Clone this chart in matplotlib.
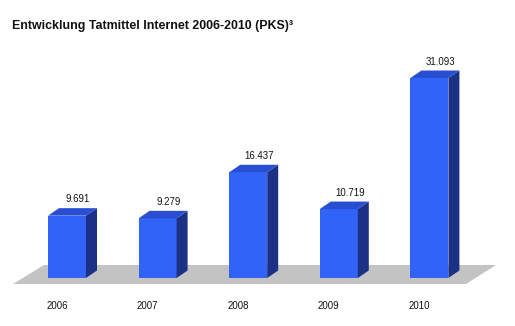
import numpy as np
import matplotlib
matplotlib.use("Agg")
import matplotlib.pyplot as plt
from matplotlib.patches import Polygon

# Daten: Fälle Tatmittel Internet (PKS)
jahre = ["2006", "2007", "2008", "2009", "2010"]
faelle = [9691, 9279, 16437, 10719, 31093]
beschriftung = ["9.691", "9.279", "16.437", "10.719", "31.093"]

plt.rcParams['font.family'] = ['Liberation Sans', 'DejaVu Sans']

W, H = 515, 326
fig = plt.figure(figsize=(W / 100, H / 100), dpi=100)
ax = fig.add_axes([0, 0, 1, 1])

# Pixel-Geometrie -> Datenkoordinaten
x0_px, dx_px = 67.0, 90.6        # Mitte erster Balken, Abstand
y0_px, ymax_px = 278.0, 78.0     # Nulllinie, Höhe des größten Balkens
px_per_val = (y0_px - ymax_px) / max(faelle)
ax.set_xlim(-x0_px / dx_px, (W - x0_px) / dx_px)
ax.set_ylim(-(H - y0_px) / px_per_val, y0_px / px_per_val)
ax.axis("off")

def px_x(p):
    return p / dx_px

def px_y(p):
    return p / px_per_val

breite = 38 / dx_px
tx, ty = px_x(11), px_y(7.5)

front = "#3163f6"
seite = "#1b3185"
oben = "#2a4ed2"

# Boden
boden = [(px_x(13 - x0_px), px_y(-6)), (px_x(466 - x0_px), px_y(-6)),
         (px_x(496 - x0_px), px_y(13)), (px_x(44 - x0_px), px_y(13))]
ax.add_patch(Polygon(boden, closed=True, fc="#c3c3c3", ec="none", zorder=1))

x = np.arange(len(jahre))
ax.bar(x, faelle, width=breite, color=front, zorder=3, linewidth=0)
for xi, v, lab, j in zip(x, faelle, beschriftung, jahre):
    r = xi + breite / 2
    l = xi - breite / 2
    ax.add_patch(Polygon([(r, 0), (r + tx, ty), (r + tx, v + ty), (r, v)],
                         closed=True, fc=seite, ec="none", zorder=3))
    ax.add_patch(Polygon([(l, v), (r, v), (r + tx, v + ty), (l + tx, v + ty)],
                         closed=True, fc=oben, ec="none", zorder=3))
    ax.text(xi + px_x(11), v + ty + px_y(4), lab, ha="center", va="bottom",
            fontsize=6.9, color="#111111")
    ax.text(xi - px_x(10), px_y(-28), j, ha="center", va="center",
            fontsize=6.9, color="#111111")

fig.text(12 / W, 1 - 26 / H, "Entwicklung Tatmittel Internet 2006-2010 (PKS)³",
         ha="left", va="center", fontsize=8.9, fontweight="bold", color="#111111")

fig.savefig("out.png", dpi=100, facecolor="white")
